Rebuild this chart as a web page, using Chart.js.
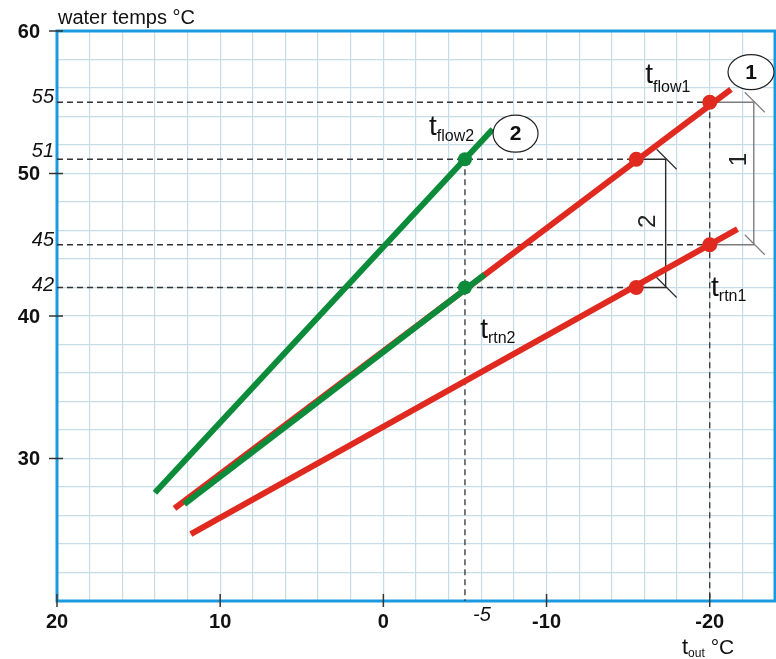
<!DOCTYPE html>
<html>
<head>
<meta charset="utf-8">
<script src="https://cdn.jsdelivr.net/npm/chart.js@4.4.0/dist/chart.umd.min.js"></script>
<style>
  html, body { margin: 0; padding: 0; background: #fff; }
</style>
</head>
<body>
<canvas id="chart" width="776" height="659"></canvas>
<script>
// axis labels
const xMajor = [20, 10, 0, -10, -20];
const yMajor = [60, 50, 40, 30];
const xMarks = [-5];
const yMarks = [55, 51, 45, 42];

// heating curves: outdoor temp -> water temp
const flow1X = [12.8, -21.3], flow1Y = [26.5, 55.9];
const rtn1X  = [11.8, -21.7], rtn1Y  = [24.7, 46.1];
const flow2X = [14.0, -6.7],  flow2Y = [27.6, 53.1];
const rtn2X  = [12.2, -6.2],  rtn2Y  = [26.8, 42.9];

// design points
const redDotX = [-15.5, -20, -15.5, -20], redDotY = [51, 55, 42, 45];
const greenDotX = [-5, -5], greenDotY = [51, 42];

// dashed helper lines
const hDashEnd = [-20, -15.5, -20, -15.5];   // for yMarks
const vDashX = [-5, -20], vDashTop = [51, 55];

// spread brackets (curve 1, curve 2)
const brFrom = [-20, -15.5], brTo = [-22.7, -17.3];
const brTop = [55, 51], brBot = [45, 42];
const brText = ['1', '2'];

const RED = '#e0291f', GREEN = '#0c8c3b', BLUE = '#1b9ae0';

function pts(xs, ys) { return xs.map((x, i) => ({ x: x, y: ys[i] })); }

let datasets = [];
function add(d) { datasets.push(Object.assign({ showLine: true, pointRadius: 0, fill: false }, d)); }

yMarks.forEach((v, i) => add({ data: [{ x: 20, y: v }, { x: hDashEnd[i], y: v }], borderColor: '#333', borderWidth: 1.3, borderDash: [6, 4], order: 10 }));
vDashX.forEach((v, i) => add({ data: [{ x: v, y: vDashTop[i] }, { x: v, y: 20 }], borderColor: '#333', borderWidth: 1.3, borderDash: [6, 4], order: 10 }));
brFrom.forEach((v, i) => add({
  data: [{ x: v, y: brTop[i] }, { x: brTo[i], y: brTop[i] }, { x: brTo[i], y: brBot[i] }, { x: v, y: brBot[i] }],
  borderColor: i == 0 ? '#7d7d7d' : '#2a2a2a', borderWidth: 1.4, order: 9
}));
add({ data: pts(rtn1X, rtn1Y), borderColor: RED, borderWidth: 6, order: 5 });
add({ data: pts(flow1X, flow1Y), borderColor: RED, borderWidth: 6, order: 5 });
add({ data: pts(flow2X, flow2Y), borderColor: GREEN, borderWidth: 6, order: 4 });
add({ data: pts(rtn2X, rtn2Y), borderColor: GREEN, borderWidth: 6, order: 4 });
datasets.push({ data: pts(redDotX, redDotY), showLine: false, pointRadius: 7.5, pointBackgroundColor: RED, pointBorderWidth: 0, order: 2 });
datasets.push({ data: pts(greenDotX, greenDotY), showLine: false, pointRadius: 7, pointBackgroundColor: GREEN, pointBorderWidth: 0, order: 1 });

function sub(ctx, main, s, x, y, size, subSize, drop) {
  ctx.textAlign = 'left';
  ctx.textBaseline = 'alphabetic';
  ctx.font = size + 'px "Liberation Sans", Arial';
  ctx.fillText(main, x, y);
  let w = ctx.measureText(main).width;
  ctx.font = subSize + 'px "Liberation Sans", Arial';
  ctx.fillText(s, x + w, y + drop);
  return x + w + ctx.measureText(s).width;
}

const overlay = {
  id: 'overlay',
  beforeDatasetsDraw(chart) {
    const ctx = chart.ctx, a = chart.chartArea;
    ctx.save();
    ctx.strokeStyle = BLUE;
    ctx.lineWidth = 3;
    ctx.strokeRect(a.left, a.top, a.right - a.left, a.bottom - a.top);
    ctx.restore();
  },
  afterDraw(chart) {
    const ctx = chart.ctx, xs = chart.scales.x, ys = chart.scales.y;
    ctx.save();
    ctx.fillStyle = '#111';
    ctx.strokeStyle = '#333';
    ctx.lineWidth = 1.5;
    // tick marks
    yMajor.forEach(v => {
      const p = ys.getPixelForValue(v);
      ctx.beginPath(); ctx.moveTo(49, p); ctx.lineTo(63, p); ctx.stroke();
    });
    xMajor.forEach(v => {
      const p = xs.getPixelForValue(v);
      ctx.beginPath(); ctx.moveTo(p, 594); ctx.lineTo(p, 607); ctx.stroke();
    });
    // tick labels
    ctx.font = 'bold 20px "Liberation Sans", Arial';
    ctx.textAlign = 'right'; ctx.textBaseline = 'middle';
    yMajor.forEach(v => ctx.fillText(String(v), 40, ys.getPixelForValue(v) + 1));
    ctx.textAlign = 'center';
    xMajor.forEach(v => ctx.fillText(String(v), xs.getPixelForValue(v), 622));
    ctx.font = 'italic 20px "Liberation Sans", Arial';
    ctx.textAlign = 'right';
    const dy = [-5, -8, -4, -2];
    yMarks.forEach((v, i) => ctx.fillText(String(v), 54, ys.getPixelForValue(v) + dy[i]));
    ctx.textAlign = 'center';
    xMarks.forEach(v => ctx.fillText(String(v), xs.getPixelForValue(v) + 17, 615));
    // axis titles
    ctx.font = '20px "Liberation Sans", Arial';
    ctx.textAlign = 'left'; ctx.textBaseline = 'alphabetic';
    ctx.fillText('water temps °C', 58, 24);
    let e = sub(ctx, 't', 'out', 682, 654, 22, 12, 3);
    ctx.font = '21px "Liberation Sans", Arial';
    ctx.fillText(' °C', e, 654);
    // curve labels
    sub(ctx, 't', 'flow1', xs.getPixelForValue(-16.05), ys.getPixelForValue(56.35), 28, 16, 9);
    sub(ctx, 't', 'flow2', xs.getPixelForValue(-2.8), ys.getPixelForValue(52.7), 28, 16, 6);
    sub(ctx, 't', 'rtn1', xs.getPixelForValue(-20.08), ys.getPixelForValue(41.4), 28, 16, 5);
    sub(ctx, 't', 'rtn2', xs.getPixelForValue(-5.93), ys.getPixelForValue(38.45), 28, 16, 5);
    // bracket end slashes and numbers
    brFrom.forEach((v, i) => {
      const bx = xs.getPixelForValue(brTo[i]);
      ctx.strokeStyle = i == 0 ? '#7d7d7d' : '#2a2a2a';
      ctx.lineWidth = 1.2;
      [brTop[i], brBot[i]].forEach(t => {
        const by = ys.getPixelForValue(t);
        ctx.beginPath(); ctx.moveTo(bx - 9, by - 10); ctx.lineTo(bx + 11, by + 10); ctx.stroke();
      });
      const my = ys.getPixelForValue((brTop[i] + brBot[i]) / 2);
      ctx.save();
      ctx.translate(i == 0 ? bx - 14 : bx - 17, i == 0 ? my - 14 : my - 2);
      ctx.rotate(-Math.PI / 2);
      ctx.font = '24px "Liberation Sans", Arial';
      ctx.textAlign = 'center'; ctx.textBaseline = 'middle';
      ctx.fillStyle = '#222';
      ctx.fillText(brText[i], 0, 0);
      ctx.restore();
    });
    // curve number circles
    [[-22.53, 57.12, 23, 17.5, '1'], [-8.1, 52.8, 22.5, 18.5, '2']].forEach(c => {
      const cx = xs.getPixelForValue(c[0]), cy = ys.getPixelForValue(c[1]);
      ctx.beginPath();
      ctx.ellipse(cx, cy, c[2], c[3], 0, 0, Math.PI * 2);
      ctx.fillStyle = '#fff'; ctx.fill();
      ctx.strokeStyle = '#222'; ctx.lineWidth = 1.2; ctx.stroke();
      ctx.fillStyle = '#111';
      ctx.font = 'bold 21px "Liberation Sans", Arial';
      ctx.textAlign = 'center'; ctx.textBaseline = 'middle';
      ctx.fillText(c[4], cx, cy + 1);
    });
    ctx.restore();
  }
};

new Chart(document.getElementById('chart'), {
  type: 'scatter',
  data: { datasets: datasets },
  options: {
    responsive: false,
    animation: false,
    layout: { autoPadding: false, padding: { top: 31, right: 1, left: 0, bottom: 0 } },
    plugins: { legend: { display: false }, tooltip: { enabled: false } },
    scales: {
      x: {
        type: 'linear', min: -24, max: 20, reverse: true,
        ticks: { stepSize: 2, display: false },
        grid: { color: '#c6dde8', lineWidth: 1.2, drawTicks: false },
        border: { display: false },
        afterFit: s => { s.height = 58; }
      },
      y: {
        type: 'linear', min: 20, max: 60,
        ticks: { stepSize: 2, display: false },
        grid: { color: '#c6dde8', lineWidth: 1.2, drawTicks: false },
        border: { display: false },
        afterFit: s => { s.width = 57; }
      }
    }
  },
  plugins: [overlay]
});
</script>
</body>
</html>
